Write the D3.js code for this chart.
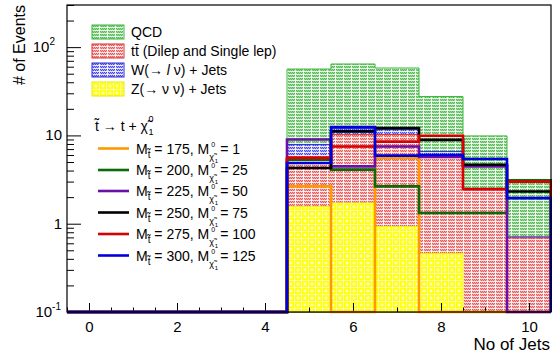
<!DOCTYPE html>
<html>
<head>
<meta charset="utf-8">
<script src="https://cdn.jsdelivr.net/npm/d3@7"></script>
<style>
  body { margin: 0; background: #fff; }
  text { font-family: "Liberation Sans", Arial, Helvetica, sans-serif; fill: #000; }
</style>
</head>
<body>
<div id="chart"></div>
<script>
// Number of jets (bin centres)
var nJets = [0, 1, 2, 3, 4, 5, 6, 7, 8, 9, 10];
var xTicks = [0, 2, 4, 6, 8, 10];
var yTicks = [0.1, 1, 10, 100];

// Backgrounds (stacked), per bin
var zJets = [0, 0, 0, 0, 0, 1.57, 1.72, 0.93, 0.46, 0, 0];
var ttbar = [0, 0, 0, 0, 0, 4.2, 8.5, 9.3, 5.3, 2.4, 0.69];
var wJets = [0, 0, 0, 0, 0, 2.1, 1.7, 1.4, 0.8, 0.07, 0.02];
var qcd   = [0, 0, 0, 0, 0, 48.6, 52.5, 46.4, 21.0, 7.4, 2.4];

// Signal points
var mStop = [175, 200, 225, 250, 275, 300];
var mLsp  = [1, 25, 50, 75, 100, 125];
var sig175 = [0, 0, 0, 0, 0, 2.65, 0, 5.55, 0, 0, 0];
var sig200 = [0, 0, 0, 0, 0, 5.3, 4.1, 2.65, 1.32, 1.32, 3.1];
var sig225 = [0, 0, 0, 0, 0, 9.0, 4.46, 7.5, 5.7, 4.46, 0];
var sig250 = [0, 0, 0, 0, 0, 4.27, 11.1, 12.1, 8.9, 4.66, 2.32];
var sig275 = [0, 0, 0, 0, 0, 5.55, 7.5, 8.5, 9.9, 2.47, 3.0];
var sig300 = [0, 0, 0, 0, 0, 4.87, 12.4, 5.9, 6.0, 5.4, 1.95];

var signals = [sig175, sig200, sig225, sig250, sig275, sig300];
var sigColors = ["#ff9900", "#0b6b0b", "#6a10a8", "#000000", "#d80000", "#0000dd"];

// Some global parameters
var width = 552;
var height = 360;
var margin = {left: 67, top: 5, right: 1, bottom: 48};
var yMin = 0.1;

var svg = d3.select("#chart").append("svg")
            .attr("width", width)
            .attr("height", height);

var defs = svg.append("defs");

// ROOT-like dotted hatch fills
function hatch(id, base, dot) {
  var p = defs.append("pattern").attr("id", id)
              .attr("width", 8).attr("height", 3)
              .attr("patternUnits", "userSpaceOnUse");
  p.append("rect").attr("width", 8).attr("height", 3).attr("fill", base);
  for (var i = 0; i < 7; i += 2) {
    p.append("rect").attr("x", i).attr("y", 0).attr("width", 1).attr("height", 1).attr("fill", dot);
    p.append("rect").attr("x", i + 1).attr("y", 1).attr("width", 1).attr("height", 1).attr("fill", dot);
  }
  p.append("rect").attr("x", 0).attr("y", 2).attr("width", 8).attr("height", 1).attr("fill", "#fff").attr("opacity", 0.75);
  p.append("rect").attr("x", 7).attr("y", 0).attr("width", 1).attr("height", 3).attr("fill", "#fff").attr("opacity", 0.85);
}
hatch("pQCD", "#9ad69a", "#55bb55");
hatch("pTT", "#f3aaaa", "#e55a5a");
hatch("pW", "#aaaaf2", "#4a4ae6");

// yellow with white crosses
var pz = defs.append("pattern").attr("id", "pZ")
             .attr("width", 7).attr("height", 7)
             .attr("patternUnits", "userSpaceOnUse");
pz.append("rect").attr("width", 7).attr("height", 7).attr("fill", "#ffff10");
pz.append("rect").attr("x", 0).attr("y", 0).attr("width", 7).attr("height", 1).attr("fill", "#fff").attr("opacity", 0.6);
pz.append("rect").attr("x", 0).attr("y", 0).attr("width", 1).attr("height", 7).attr("fill", "#fff").attr("opacity", 0.6);
pz.append("rect").attr("x", 3.5).attr("y", 2.5).attr("width", 1).attr("height", 3).attr("fill", "#fff");
pz.append("rect").attr("x", 2.5).attr("y", 3.5).attr("width", 3).attr("height", 1).attr("fill", "#fff");

var xScale = d3.scaleLinear()
               .domain([-0.5, 10.5])
               .range([margin.left, width - margin.right]);

var yScale = d3.scaleLog()
               .domain([yMin, 300])
               .range([height - margin.bottom, margin.top])
               .clamp(true);

// step outline of a histogram, zero bins sit on the bottom of the frame
function steps(vals) {
  var pts = [[xScale(-0.5), yScale(yMin)]];
  vals.forEach(function(v, i) {
    var yv = yScale(Math.max(v, yMin));
    pts.push([xScale(nJets[i] - 0.5), yv]);
    pts.push([xScale(nJets[i] + 0.5), yv]);
  });
  pts.push([xScale(10.5), yScale(yMin)]);
  return pts;
}
var line = d3.line();

// cumulative stack
var c1 = zJets.slice();
var c2 = c1.map((d, i) => d + ttbar[i]);
var c3 = c2.map((d, i) => d + wJets[i]);
var c4 = c3.map((d, i) => d + qcd[i]);

var stackLayers = [
  {vals: c4, fill: "url(#pQCD)", stroke: "#3cb83c"},
  {vals: c3, fill: "url(#pW)", stroke: "#2a2ae0"},
  {vals: c2, fill: "url(#pTT)", stroke: "#e03030"},
  {vals: c1, fill: "url(#pZ)", stroke: "#f0f000"}
];

svg.selectAll(".stack").data(stackLayers).enter()
   .append("path").attr("class", "stack")
   .attr("d", (d) => line(steps(d.vals)) + "Z")
   .attr("fill", (d) => d.fill)
   .attr("stroke", (d) => d.stroke)
   .attr("stroke-width", 1);

// Axes: ticks point into the frame
var xAxis = d3.axisBottom(xScale).tickValues(xTicks).tickSizeInner(-9).tickSizeOuter(0).tickPadding(6);
var xMinor = d3.axisBottom(xScale).tickValues(d3.range(-0.5, 10.51, 0.5)).tickSizeInner(-4.5).tickSizeOuter(0).tickFormat("");

var gx = svg.append("g").attr("transform", "translate(0," + (height - margin.bottom) + ")").call(xAxis);
gx.select(".domain").remove();
gx.selectAll("text").attr("font-size", 15).attr("font-family", "Liberation Sans, Arial, sans-serif").attr("dy", "0.9em");
svg.append("g").attr("transform", "translate(0," + (height - margin.bottom) + ")").call(xMinor)
   .select(".domain").remove();

var minorY = [];
[0.1, 1, 10, 100].forEach(function(dec) {
  for (var k = 2; k <= 9; k++) if (dec * k <= 300) minorY.push(dec * k);
});
var yAxis = d3.axisLeft(yScale).tickValues(yTicks).tickSizeInner(-14).tickSizeOuter(0).tickFormat("");
var yMinor = d3.axisLeft(yScale).tickValues(minorY).tickSizeInner(-7).tickSizeOuter(0).tickFormat("");
svg.append("g").attr("transform", "translate(" + margin.left + ",0)").call(yAxis).select(".domain").remove();
svg.append("g").attr("transform", "translate(" + margin.left + ",0)").call(yMinor).select(".domain").remove();

// y tick labels with exponents
var yLabels = [
  {v: 100, base: "10", exp: "2", right: 55},
  {v: 10, base: "10", exp: "", right: 62},
  {v: 1, base: "1", exp: "", right: 62},
  {v: 0.1, base: "10", exp: "-1", right: 61}
];
yLabels.forEach(function(l) {
  var t = svg.append("text").attr("x", l.right).attr("y", yScale(l.v) + 5)
             .attr("text-anchor", "end").attr("font-size", 15);
  t.append("tspan").text(l.base);
  if (l.exp) t.append("tspan").attr("font-size", 10).attr("dy", -7).text(l.exp);
});

// signal histograms
svg.selectAll(".signal").data(signals).enter()
   .append("path").attr("class", "signal")
   .attr("d", (d) => line(steps(d)))
   .attr("fill", "none")
   .attr("stroke", (d, i) => sigColors[i])
   .attr("stroke-width", 2.6);

// frame
svg.append("rect")
   .attr("x", margin.left).attr("y", margin.top)
   .attr("width", width - margin.left - margin.right)
   .attr("height", height - margin.top - margin.bottom)
   .attr("fill", "none").attr("stroke", "#000").attr("stroke-width", 1.2);

// axis titles
svg.append("text")
   .attr("x", width - 2).attr("y", 350)
   .attr("text-anchor", "end").attr("font-size", 17)
   .text("No of Jets");

svg.append("text")
   .attr("transform", "rotate(-90)")
   .attr("x", -5).attr("y", 25)
   .attr("text-anchor", "end").attr("font-size", 16)
   .text("# of Events");

// Legend for the backgrounds
var stackNames = ["QCD", "tt\u0304 (Dilep and Single lep)", "W", "Z(\u2192 \u03bd \u03bd) + Jets"];
var stackFills = ["url(#pQCD)", "url(#pTT)", "url(#pW)", "url(#pZ)"];
var stackLines = ["#3cb83c", "#e03030", "#2a2ae0", "#e8e800"];

var leg = svg.selectAll(".stackLegend").data(stackNames).enter()
             .append("g").attr("class", "stackLegend")
             .attr("transform", (d, i) => "translate(92," + (25 + i * 19) + ")");
leg.append("rect").attr("width", 32).attr("height", 14)
   .attr("fill", (d, i) => stackFills[i]).attr("stroke", (d, i) => stackLines[i]);
leg.each(function(d, i) {
  var t = d3.select(this).append("text").attr("x", 39).attr("y", 12).attr("font-size", 14);
  if (d == "W") {
    t.append("tspan").text("W(\u2192 ");
    t.append("tspan").attr("font-style", "italic").text("l");
    t.append("tspan").text(" \u03bd) + Jets");
  } else {
    t.text(d);
  }
});

// Legend for the signal points
var head = svg.append("text").attr("x", 95).attr("y", 131).attr("font-size", 14)
              .text("t\u0303 \u2192 t + \u03c7\u0303");
var hx = 95 + head.node().getComputedTextLength();
svg.append("text").attr("x", hx + 0.5).attr("y", 122).attr("font-size", 9).text("0");
svg.append("text").attr("x", hx + 0.5).attr("y", 135).attr("font-size", 9).text("1");

var rowY = [148.5, 170, 191, 212.5, 234, 255.5];
mStop.forEach(function(m, i) {
  var yy = rowY[i];
  svg.append("line").attr("x1", 98).attr("x2", 129).attr("y1", yy).attr("y2", yy)
     .attr("stroke", sigColors[i]).attr("stroke-width", 2.6);
  var base = yy + 5;
  var t = svg.append("text").attr("x", 136).attr("y", base).attr("font-size", 14);
  t.append("tspan").text("M");
  t.append("tspan").attr("font-size", 10).attr("dy", 4).text("t\u0303");
  t.append("tspan").attr("dy", -4).text(" = " + m + ", M");
  var ex = 136 + t.node().getComputedTextLength();
  svg.append("text").attr("x", ex + 2).attr("y", base - 7).attr("font-size", 7).text("0");
  svg.append("text").attr("x", ex).attr("y", base + 6).attr("font-size", 9).text("\u03c7\u0303");
  svg.append("text").attr("x", ex + 5.5).attr("y", base + 9).attr("font-size", 6).text("1");
  svg.append("text").attr("x", ex + 11).attr("y", base).attr("font-size", 14).text("= " + mLsp[i]);
});
</script>
</body>
</html>
